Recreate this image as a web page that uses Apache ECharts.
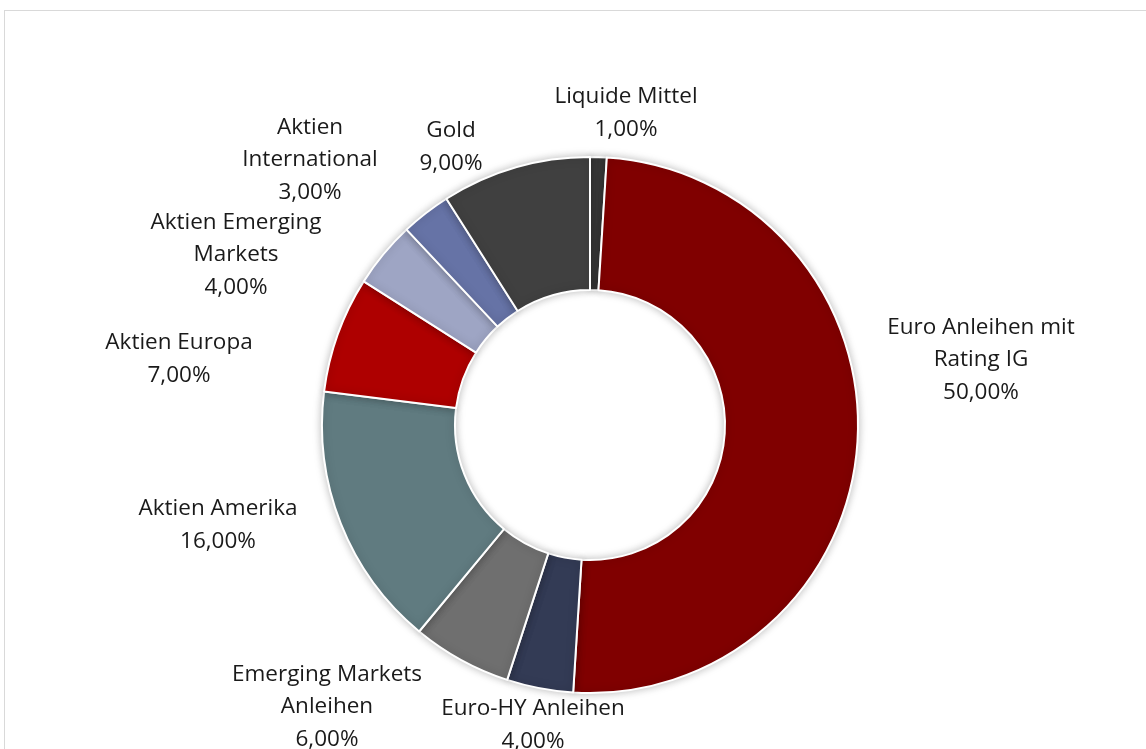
<!DOCTYPE html>
<html><head><meta charset="utf-8">
<script src="https://cdn.jsdelivr.net/npm/echarts@6/dist/echarts.min.js"></script>
<style>html,body{margin:0;padding:0;background:#fff}#frame{position:absolute;left:4px;top:10px;width:1160px;height:760px;border:1px solid #d9d9d9;box-sizing:border-box}#c{position:absolute;left:0;top:0;width:1146px;height:749px}</style>
</head><body><div id="frame"></div><div id="c"></div>
<script>
const categories = ["Liquide Mittel","Euro Anleihen mit\nRating IG","Euro-HY Anleihen","Emerging Markets\nAnleihen","Aktien Amerika","Aktien Europa","Aktien Emerging\nMarkets","Aktien\nInternational","Gold"];
const values = [1,50,4,6,16,7,4,3,9];
const colors = ["#3a3a3a","#800000","#333b55","#6f6f6f","#607b80","#ae0000","#9ea5c4","#6673a6","#404040"];
// label anchor positions (layout only)
const labelPos = [[626,113],[981,360],[533,725],[327,707],[218,525],[179,359],[236,255],[310,160],[451,147]];

const chart = echarts.init(document.getElementById('c'));
chart.setOption({
  animation:false,
  series:[{
    type:'pie',
    center:[590,425],
    radius:[135,268],
    startAngle:90,
    clockwise:true,
    avoidLabelOverlap:false,
    data: categories.map((n,i)=>({name:n,value:values[i],itemStyle:{color:colors[i]}})),
    itemStyle:{borderColor:'#fff',borderWidth:2,shadowBlur:8,shadowColor:'rgba(0,0,0,0.25)'},
    label:{show:true,position:'outside',color:'#1a1a1a',fontFamily:'Open Sans',fontSize:22.5,lineHeight:32.5,align:'center',
      formatter:p=>p.name+'\n'+p.value.toFixed(2).replace('.',',')+'%'},
    labelLine:{show:false},
    labelLayout:function(p){const q=labelPos[p.dataIndex];return {x:q[0],y:q[1],align:'center',verticalAlign:'middle'};}
  }]
});
</script></body></html>
